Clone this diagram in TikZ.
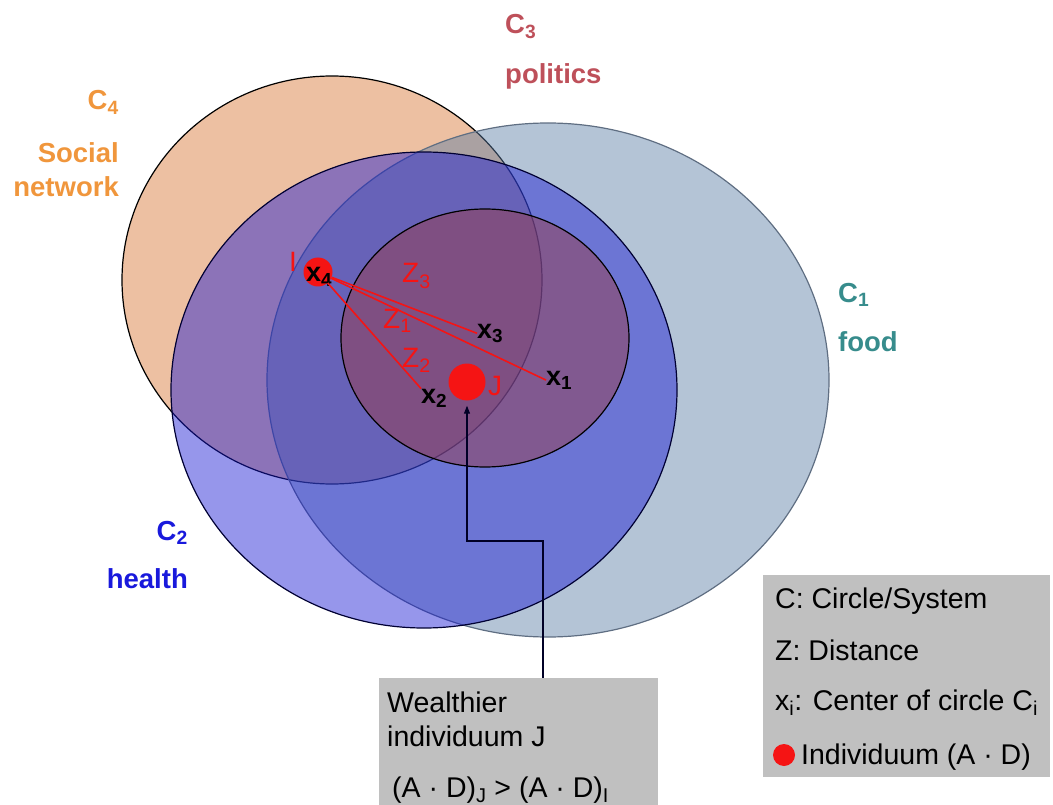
\documentclass[tikz,border=0pt]{standalone}
\usepackage{fontspec}
\setmainfont{Liberation Sans}
\usepackage{tikz}
\usetikzlibrary{arrows.meta}

\definecolor{foodblue}{RGB}{89,124,164}
\definecolor{foodline}{RGB}{95,110,130}
\definecolor{healthblue}{RGB}{22,22,211}
\definecolor{politicsred}{RGB}{151,62,77}
\definecolor{socialorange}{RGB}{237,192,162}
\definecolor{labelorange}{RGB}{240,150,60}
\definecolor{labelred}{RGB}{190,80,90}
\definecolor{labelteal}{RGB}{55,140,140}
\definecolor{labelblue}{RGB}{25,25,220}
\definecolor{boxgray}{RGB}{192,192,192}
\definecolor{dotred}{RGB}{245,20,20}

\begin{document}
\begin{tikzpicture}[x=1pt,y=-1pt,
        ring/.style={line width=1.2pt},
        setlabel/.style={font=\fontsize{27.5}{32}\selectfont\bfseries,inner sep=0pt},
        centre/.style={font=\fontsize{27}{30}\selectfont\bfseries,inner sep=0pt,anchor=base west},
        zlab/.style={font=\fontsize{28}{32}\selectfont,text=dotred,inner sep=0pt,anchor=base west},
        plain/.style={font=\fontsize{28.5}{32}\selectfont,inner sep=0pt,anchor=base west},
        dot/.style={circle,fill=dotred,inner sep=0pt},
        zline/.style={dotred,line width=1.6pt},
        panel/.style={fill=boxgray,inner sep=0pt},
        pointer/.style={line width=1.2pt,black!85!blue,-{Triangle[length=8pt,width=6pt]},shorten >=5pt}]
        \useasboundingbox (0,0) rectangle (1053,805);
        % systems
        \filldraw[ring,fill=socialorange,draw=black] (332,280) ellipse (210 and 204);
        \filldraw[ring,fill=foodblue,fill opacity=0.45,draw=foodline] (548,380) ellipse (281 and 257);
        \filldraw[ring,fill=healthblue,fill opacity=0.45,draw=black!80!blue] (424,390) ellipse (253 and 238);
        \filldraw[ring,fill=politicsred,fill opacity=0.5,draw=black] (485,338) ellipse (144 and 129);
        % names of the systems
        \node[setlabel,text=labelred,anchor=base west] (c3num) at (505,34) {C\textsubscript{3}};
        \node[setlabel,text=labelred,anchor=base west] (c3name) at (505,84) {politics};
        \node[setlabel,text=labelorange,anchor=base east] (c4num) at (119,110) {C\textsubscript{4}};
        \node[setlabel,text=labelorange,anchor=base east] (c4name) at (119,163) {Social};
        \node[setlabel,text=labelorange,anchor=base east] (c4more) at (119,197) {network};
        \node[setlabel,text=labelteal,anchor=base west] (c1num) at (838,302) {C\textsubscript{1}};
        \node[setlabel,text=labelteal,anchor=base west] (c1name) at (838,352) {food};
        \node[setlabel,text=labelblue,anchor=base east] (c2num) at (188,540) {C\textsubscript{2}};
        \node[setlabel,text=labelblue,anchor=base east] (c2name) at (188,588) {health};
        % individuals
        \node[dot,minimum size=29pt] (Idot) at (318,272) {};
        \node[dot,minimum size=37pt] (Jdot) at (467,382) {};
        \node[zlab] (Ilab) at (289,272) {I};
        \node[zlab] (Jlab) at (488,395) {J};
        % centers
        \node[centre] (x4) at (306,282) {x\textsubscript{4}};
        \node[centre] (x3) at (477,338) {x\textsubscript{3}};
        \node[centre] (x1) at (546,385) {x\textsubscript{1}};
        \node[centre] (x2) at (421,403) {x\textsubscript{2}};
        % distances
        \draw[zline] (Idot) -- (x3.west);
        \draw[zline] (Idot) -- (x1.west);
        \draw[zline] (Idot) -- (x2.north west);
        \node[zlab] (z3) at (402,283) {Z\textsubscript{3}};
        \node[zlab] (z1) at (383,328) {Z\textsubscript{1}};
        \node[zlab] (z2) at (402,367) {Z\textsubscript{2}};
        % box for J
        \node[panel,minimum width=279pt,minimum height=134pt] (boxJ) at (518,745) {};
        \node[plain] (wl1) at (387,712) {Wealthier};
        \node[plain] (wl2) at (387,746) {individuum J};
        \node[plain] (wl3) at (392,797) {(A · D)\textsubscript{J} > (A · D)\textsubscript{I}};
        \coordinate (bend) at (543,541);
        \draw[pointer] (boxJ.north -| bend) -- (bend) -| (Jdot.south);
        % legend
        \node[panel,minimum width=287pt,minimum height=202pt] (legend) at (906.5,676) {};
        \node[plain] (leg1) at (775,608) {C: Circle/System};
        \node[plain] (leg2) at (775,660) {Z: Distance};
        \node[plain] (leg3) at (775,710) {x\textsubscript{i}: Center of circle C\textsubscript{i}};
        \node[dot,minimum size=22pt] (legdot) at (784,755) {};
        \node[plain] (leg4) at (801,764) {Individuum (A · D)};
    \end{tikzpicture}
\end{document}
